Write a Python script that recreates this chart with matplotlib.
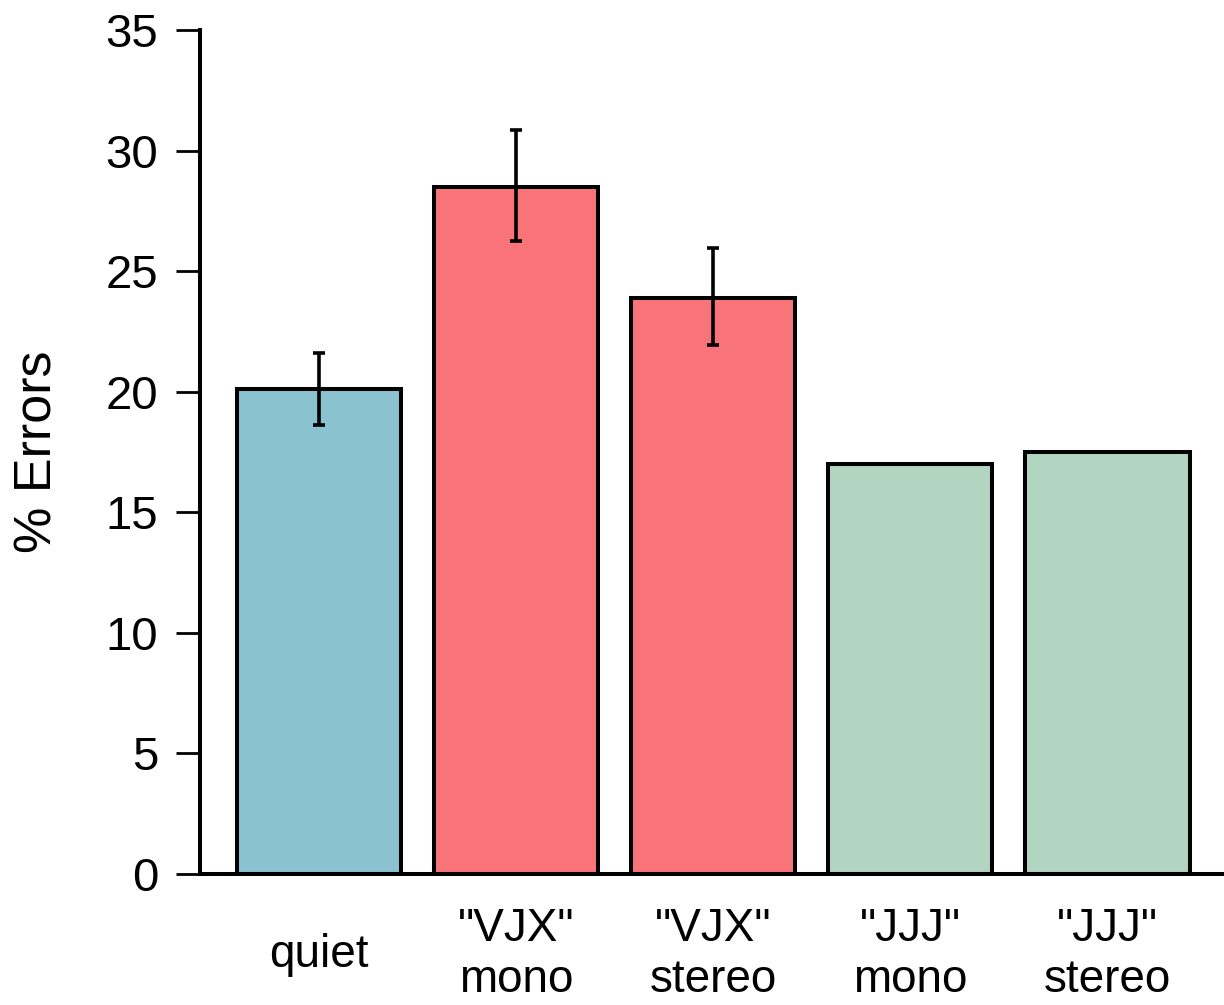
import matplotlib.pyplot as plt
import numpy as np

plt.rcParams['font.family'] = ['Liberation Sans', 'DejaVu Sans']

categories = ['quiet', '"VJX"\nmono', '"VJX"\nstereo', '"JJJ"\nmono', '"JJJ"\nstereo']
errors = [20.1, 28.5, 23.9, 17.0, 17.5]
err_low = [18.6, 26.25, 21.95, np.nan, np.nan]
err_high = [21.6, 30.85, 25.95, np.nan, np.nan]
colors = ['#8AC2D0', '#F97479', '#F97479', '#B1D5C0', '#B1D5C0']
y_ticks = [0, 5, 10, 15, 20, 25, 30, 35]


def main() -> None:
    fig = plt.figure(figsize=(12.24, 10.05), dpi=100)
    # axes box: left spine at x=200 px, bottom at y=874 px, top at y=30 px
    ax = fig.add_axes([200 / 1224, (1005 - 874) / 1005, 1 - 200 / 1224, 844 / 1005])

    pos = np.arange(len(categories)) * 1.2 + 0.7
    ax.bar(pos, errors, width=1.0, color=colors, edgecolor='black', linewidth=2.9, zorder=2)

    lo = np.array(errors) - np.array(err_low)
    hi = np.array(err_high) - np.array(errors)
    ax.errorbar(pos, errors, yerr=[lo, hi], fmt='none', ecolor='black',
                elinewidth=2.6, capsize=4, capthick=2.6, zorder=3)

    ax.set_xlim(-0.025, 6.21)
    ax.set_ylim(0, 35)
    ax.set_yticks(y_ticks)
    ax.set_xticks(pos, categories)

    for s in ['top', 'right']:
        ax.spines[s].set_visible(False)
    ax.spines['left'].set_linewidth(2.9)
    ax.spines['bottom'].set_linewidth(2.9)

    ax.tick_params(axis='y', length=17, width=2, pad=13, labelsize=34)
    ax.tick_params(axis='x', length=0, pad=58, labelsize=33)
    for lbl in ax.get_xticklabels():
        lbl.set_verticalalignment('center')
        lbl.set_linespacing(1.2)

    ax.set_ylabel('% Errors', fontsize=37.5, labelpad=31)

    fig.savefig('out.png', dpi=100)
    plt.close(fig)


if __name__ == "__main__":
    main()
